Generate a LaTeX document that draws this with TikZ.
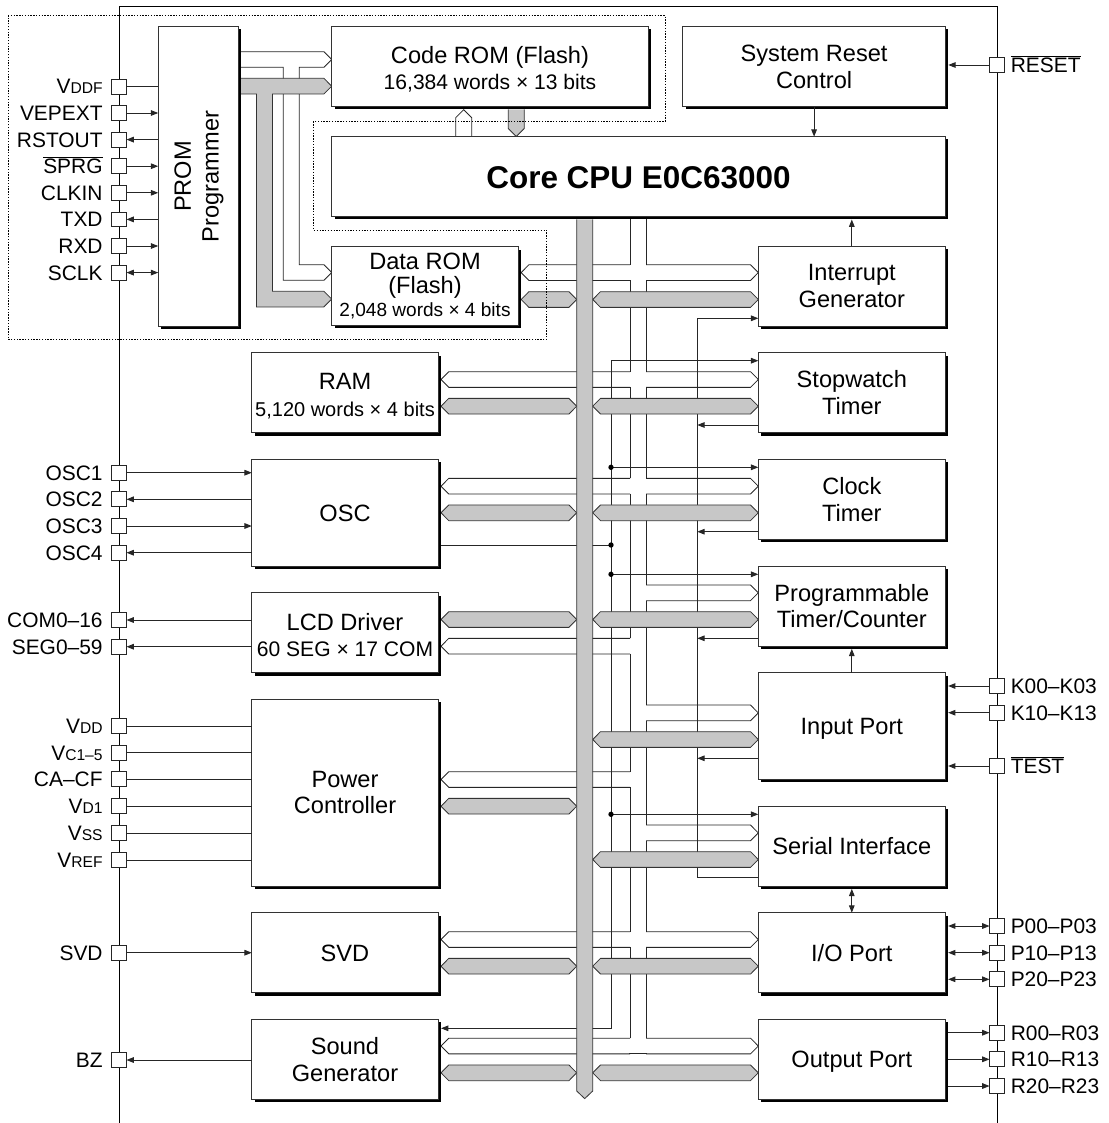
\documentclass[tikz,border=0pt]{standalone}
\usepackage{fontspec}
\setmainfont{Liberation Sans}
\usetikzlibrary{arrows.meta,shadows}
\pgfdeclarelayer{background}
\pgfsetlayers{background,main}
\newcommand{\lblf}{\fontsize{17.7}{20}\selectfont}
\newcommand{\smlf}{\fontsize{15.8}{17}\selectfont}
\newcommand{\pinf}{\fontsize{15.7}{17}\selectfont}
\newcommand{\subc}[1]{{\fontsize{11.7}{12}\selectfont #1}}
\newcommand{\ovl}[1]{$\overline{\mbox{#1}}$}
\newcommand{\bx}[7][]{\node[blk,#1,minimum width={(#5-#3)*0.75pt},minimum height={(#6-#4)*0.75pt}] (#2) at ({(#3+#5)/2},{(#4+#6)/2}) {#7};}
\newcommand{\wL}[2]{\draw[wbus] (630,{#2-7.85}) -- ({#1+7.8},{#2-7.85}) -- (#1,#2) -- ({#1+7.8},{#2+7.85}) -- (630,{#2+7.85});}
\newcommand{\wR}[2]{\draw[wbus] (646,{#2-7.85}) -- ({#1-7.8},{#2-7.85}) -- (#1,#2) -- ({#1-7.8},{#2+7.85}) -- (646,{#2+7.85});}
\newcommand{\gb}[3]{\filldraw[gbus] (#1,#3) -- ({#1+7.8},{#3-7.85}) -- ({#2-7.8},{#3-7.85}) -- (#2,#3) -- ({#2-7.8},{#3+7.85}) -- ({#1+7.8},{#3+7.85}) -- cycle;}
\newcommand{\lpin}[3]{\node[pinbox] (#1) at (119,#2) {}; \node[plbl,anchor=base east] (#1l) at ([xshift=-6.5pt,yshift=-5.6pt]#1.west) {#3};}
\newcommand{\rpin}[3]{\node[pinbox] (#1) at (997,#2) {}; \node[plbl,anchor=base west] (#1l) at ([xshift=4.5pt,yshift=-5.6pt]#1.east) {#3};}
\tikzset{
 ln/.style={line width=0.7pt, draw=black!85},
 arr/.style={ln, -{Triangle[length=5.5pt,width=4.2pt]}},
 arrb/.style={ln, {Triangle[length=5.5pt,width=4.2pt]}-{Triangle[length=5.5pt,width=4.2pt]}},
 blk/.style={draw=black!80, line width=0.6pt, fill=white, inner sep=0pt, outer sep=0pt, align=center, font=\lblf,
   drop shadow={shadow xshift=2.1pt, shadow yshift=-2.1pt, fill=black, opacity=1}},
 one/.style={text height=12.7pt, text depth=0pt},
 gbus/.style={fill=black!22, draw=black!80, line width=0.6pt},
 wbus/.style={draw=black!85, line width=0.6pt},
 pinbox/.style={draw=black!85, fill=white, line width=0.6pt, minimum size=11.2pt, inner sep=0pt, outer sep=0pt},
 plbl/.style={font=\pinf, inner sep=0pt},
 dotb/.style={draw=black, line width=0.6pt, dash pattern=on 1pt off 1.1pt}
}
\begin{document}
\begin{tikzpicture}[x=0.75pt,y=-0.75pt]
\useasboundingbox (0,0) rectangle (1108,1123);
% ---------- blocks
\bx{prom}{158.2}{26.7}{238.2}{326}{}
\node[rotate=90, align=center, font=\fontsize{17.7}{20.7}\selectfont] (promt) at (199,176.5) {PROM\\Programmer};
\bx{crom}{331.7}{26.7}{648.3}{106.7}{}
\node[font=\lblf, anchor=base] (cromt1) at (490,63.3) {Code ROM (Flash)};
\node[font=\smlf, anchor=base] (cromt2) at (490,90) {16,384 words × 13 bits};
\bx{srst}{682.7}{26.7}{945.5}{106.7}{System Reset\\Control}
\bx{cpu}{331.7}{136.7}{945.5}{216.7}{}
\node[font=\fontsize{23.6}{26}\selectfont\bfseries, anchor=base] (cput) at (638.5,188.3) {Core CPU E0C63000};
\bx{drom}{331.7}{246.7}{518.3}{325}{}
\node[font=\lblf, anchor=base] (dromt1) at (425,269.3) {Data ROM};
\node[font=\lblf, anchor=base] (dromt2) at (425,293.3) {(Flash)};
\node[font=\fontsize{14.3}{16}\selectfont, anchor=base] (dromt3) at (425,316.7) {2,048 words × 4 bits};
\bx{ram}{251.8}{352.7}{438.2}{432.7}{}
\node[font=\lblf, anchor=base] (ramt1) at (345,389.3) {RAM};
\node[font=\fontsize{15}{17}\selectfont, anchor=base] (ramt2) at (345,416) {5,120 words × 4 bits};
\bx[one]{osc}{251.8}{459.3}{438.2}{566}{OSC}
\bx{lcd}{251.8}{592.7}{438.2}{672.7}{}
\node[font=\lblf, anchor=base] (lcdt1) at (345,630.7) {LCD Driver};
\node[font=\smlf, anchor=base] (lcdt2) at (345,656) {60 SEG × 17 COM};
\bx{pwr}{251.8}{699.3}{438.2}{886}{Power\\Controller}
\bx[one]{svd}{251.8}{912.7}{438.2}{992.7}{SVD}
\bx{sg}{251.8}{1019.3}{438.2}{1099.3}{Sound\\Generator}
\bx{ig}{758.3}{246}{945.3}{326}{Interrupt\\Generator}
\bx{sw}{758.3}{352.7}{945.3}{432.7}{Stopwatch\\Timer}
\bx{ct}{758.3}{459.3}{945.3}{539.3}{Clock\\Timer}
\bx{pt}{758.3}{566}{945.3}{646}{Programmable\\Timer/Counter}
\bx[one]{ip}{758.3}{672.7}{945.3}{779.3}{Input Port}
\bx[one]{si}{758.3}{806}{945.3}{886}{Serial Interface}
\bx[one]{io}{758.3}{912.7}{945.3}{992.7}{I/O Port}
\bx[one]{op}{758.3}{1019.3}{945.3}{1099.3}{Output Port}
% ---------- pins
\lpin{pvddf}{86.5}{V\subc{DDF}}
\lpin{pvep}{113}{VEPEXT}
\lpin{prst}{139.6}{RSTOUT}
\lpin{psprg}{166.2}{\ovl{SPRG}}
\lpin{pclk}{192.8}{CLKIN}
\lpin{ptxd}{219.4}{TXD}
\lpin{prxd}{246}{RXD}
\lpin{psclk}{272.6}{SCLK}
\lpin{posca}{472.7}{OSC1}
\lpin{poscb}{499.3}{OSC2}
\lpin{poscc}{526}{OSC3}
\lpin{poscd}{552.7}{OSC4}
\lpin{pcom}{620}{COM0–16}
\lpin{pseg}{646.7}{SEG0–59}
\lpin{pvdd}{726}{V\subc{DD}}
\lpin{pvc}{752.7}{V\subc{C1–5}}
\lpin{pca}{779.3}{CA–CF}
\lpin{pvd}{806}{V\subc{D1}}
\lpin{pvss}{833.3}{V\subc{SS}}
\lpin{pvref}{860}{V\subc{REF}}
\lpin{psvd}{952.7}{SVD}
\lpin{pbz}{1060}{BZ}
\rpin{preset}{65}{\ovl{RESET}}
\rpin{pka}{686}{K00–K03}
\rpin{pkb}{712.7}{K10–K13}
\rpin{ptest}{766}{\ovl{TEST}}
\rpin{ppa}{926}{P00–P03}
\rpin{ppb}{952.7}{P10–P13}
\rpin{ppc}{979.3}{P20–P23}
\rpin{pra}{1032.7}{R00–R03}
\rpin{prb}{1059.3}{R10–R13}
\rpin{prc}{1086}{R20–R23}
% ---------- background: chip outline, buses, signal lines
\begin{pgfonlayer}{background}
\draw[ln, draw=black] (119,1123) -- (119,6) -- (997,6) -- (997,1123);
% PROM buses
\draw[wbus] (241,51.7) -- (323.9,51.7) -- (331.7,59.5) -- (323.9,67.3) -- (299.3,67.3) -- (299.3,264.7) -- (323.9,264.7) -- (331.7,272.5) -- (323.9,280.3) -- (283.2,280.3) -- (283.2,67.3) -- (241,67.3);
\filldraw[gbus] (241,78.3) -- (323.9,78.3) -- (331.7,86.2) -- (323.9,94) -- (272.5,94) -- (272.5,291.3) -- (323.9,291.3) -- (331.7,299.1) -- (323.9,306.9) -- (256.4,306.9) -- (256.4,94) -- (241,94);
% Code ROM <-> CPU
\filldraw[wbus, fill=white] (455.7,136.7) -- (455.7,117.7) -- (463.7,109.7) -- (471.7,117.7) -- (471.7,136.7);
\filldraw[gbus] (508.3,109.5) -- (508.3,128.5) -- (516.3,136.5) -- (524.3,128.5) -- (524.3,109.5);
% white horizontal buses
\wL{521.1}{272.6} \wR{758.3}{272.6}
\wL{441}{379.5} \wR{758.3}{379.5}
\wL{441}{486.2} \wR{758.3}{486.2}
\wR{758.3}{592.8}
\wL{441}{646.2}
\wR{758.3}{712.9}
\wL{441}{779.5}
\wR{758.3}{832.9}
\wL{441}{939.5} \wR{758.3}{939.5}
\wL{441}{1046} \wR{758.3}{1046}
\draw[wbus] (629,1053.85) -- (647,1053.85);
% white vertical bus
\draw[wbus] (630,219.5) -- (630,264.75) (630,280.45) -- (630,371.65) (630,387.35) -- (630,478.35) (630,494.05) -- (630,638.35) (630,654.05) -- (630,771.65) (630,787.35) -- (630,931.65) (630,947.35) -- (630,1038.15);
\draw[wbus] (646,219.5) -- (646,264.75) (646,280.45) -- (646,371.65) (646,387.35) -- (646,478.35) (646,494.05) -- (646,584.95) (646,600.65) -- (646,705.05) (646,720.75) -- (646,825.05) (646,840.75) -- (646,931.65) (646,947.35) -- (646,1038.15);
% clock line
\coordinate (k0) at (611,360.7);
\coordinate (kct) at (611,467.3);
\coordinate (kosc) at (611,545);
\coordinate (kpt) at (611,574.3);
\coordinate (ksi) at (611,814.3);
\coordinate (ksg) at (611,1028.3);
\draw[arr] (ksg) -- (k0) -- (sw.west |- k0);
\draw[arr] (kct) -- (ct.west |- kct);
\draw[arr] (kpt) -- (pt.west |- kpt);
\draw[arr] (ksi) -- (si.west |- ksi);
\draw[arr, shorten >=2.1pt] (ksi) -- (ksg) -- (sg.east |- ksg);
\draw[ln, shorten <=2.1pt] (osc.east |- kosc) -- (kosc);
\foreach \p in {kct,kosc,kpt,ksi} \fill (\p) circle (2pt);
% interrupt line
\coordinate (iig) at (697.3,318.3);
\coordinate (isw) at (697.3,425);
\coordinate (ict) at (697.3,531.7);
\coordinate (ipt) at (697.3,638.3);
\coordinate (iip) at (697.3,758.3);
\coordinate (isi) at (697.3,877.7);
\draw[arr] (si.west |- isi) -- (isi) -- (iig) -- (ig.west |- iig);
\draw[arr] (sw.west |- isw) -- (isw);
\draw[arr] (ct.west |- ict) -- (ict);
\draw[arr] (pt.west |- ipt) -- (ipt);
\draw[arr] (ip.west |- iip) -- (iip);
% grey horizontal buses
\gb{521.1}{576.7}{299.5} \gb{592.7}{758.3}{299.5}
\gb{441}{576.7}{406.2} \gb{592.7}{758.3}{406.2}
\gb{441}{576.7}{512.8} \gb{592.7}{758.3}{512.8}
\gb{441}{576.7}{619.5} \gb{592.7}{758.3}{619.5}
\gb{592.7}{758.3}{739.5}
\gb{441}{576.7}{806.2}
\gb{592.7}{758.3}{859.5}
\gb{441}{576.7}{966.2} \gb{592.7}{758.3}{966.2}
\gb{441}{576.7}{1072.8} \gb{592.7}{758.3}{1072.8}
% main grey vertical bus
\filldraw[gbus] (576.7,219.5) -- (576.7,1091) -- (584.7,1098.6) -- (592.7,1091) -- (592.7,219.5);
\end{pgfonlayer}
% ---------- connectors
\draw[ln] (pvddf.east) -- (prom.west |- pvddf);
\draw[arr] (pvep.east) -- (prom.west |- pvep);
\draw[arr] (prom.west |- prst) -- (prst.east);
\draw[arr] (psprg.east) -- (prom.west |- psprg);
\draw[arr] (pclk.east) -- (prom.west |- pclk);
\draw[arr] (prom.west |- ptxd) -- (ptxd.east);
\draw[arr] (prxd.east) -- (prom.west |- prxd);
\draw[arrb] (psclk.east) -- (prom.west |- psclk);
\draw[arr] (posca.east) -- (osc.west |- posca);
\draw[arr] (osc.west |- poscb) -- (poscb.east);
\draw[arr] (poscc.east) -- (osc.west |- poscc);
\draw[arr] (osc.west |- poscd) -- (poscd.east);
\draw[arr] (lcd.west |- pcom) -- (pcom.east);
\draw[arr] (lcd.west |- pseg) -- (pseg.east);
\foreach \p in {pvdd,pvc,pca,pvd,pvss,pvref} \draw[ln] (\p.east) -- (pwr.west |- \p);
\draw[arr] (psvd.east) -- (svd.west |- psvd);
\draw[arr] (sg.west |- pbz) -- (pbz.east);
\draw[arr, shorten >=2.1pt] (preset.west) -- (srst.east |- preset);
\foreach \p in {pka,pkb,ptest} \draw[arr, shorten >=2.1pt] (\p.west) -- (ip.east |- \p);
\foreach \p in {ppa,ppb,ppc} \draw[arrb, shorten <=2.1pt] (io.east |- \p) -- (\p.west);
\foreach \p in {pra,prb,prc} \draw[arr, shorten <=2.1pt] (op.east |- \p) -- (\p.west);
\draw[arr] (srst.south) -- (srst.south |- cpu.north);
\draw[arr, shorten >=2.1pt] (ig.north) -- (ig.north |- cpu.south);
\draw[arr, shorten >=2.1pt] (ip.north) -- (ip.north |- pt.south);
\draw[arrb, shorten <=2.1pt] (si.south) -- (si.south |- io.north);
% ---------- dotted flash region
\draw[dotb] (8,15.7) -- (665,15.7) -- (665,121.7) -- (313.3,121.7) -- (313.3,230) -- (546.7,230) -- (546.7,339.3) -- (8,339.3) -- cycle;
\end{tikzpicture}
\end{document}
